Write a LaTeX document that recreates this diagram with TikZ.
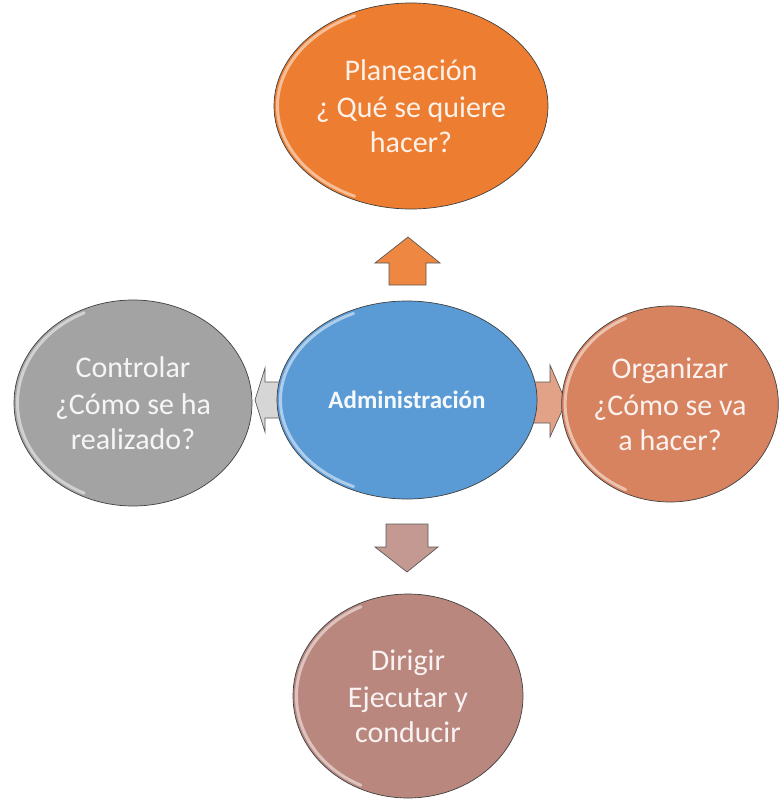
\documentclass[tikz,border=0pt]{standalone}
\usepackage{fontspec}
\setmainfont{Carlito}
\usetikzlibrary{shapes.geometric, calc}

\definecolor{planfill}{HTML}{ED7D31}
\definecolor{adminfill}{HTML}{5B9BD5}
\definecolor{ctrlfill}{HTML}{A3A3A3}
\definecolor{orgfill}{HTML}{D7835F}
\definecolor{dirfill}{HTML}{B9877E}

\tikzset{
  phase/.style={ellipse, draw=black!75, line width=0.7pt, inner sep=0pt, align=center,
    text=white, text opacity=.9, font=\fontsize{30}{35}\selectfont,
    path picture={
      \draw[white, opacity=.5, line width=3pt, line cap=round]
        let \p1=($(path picture bounding box.north east)-(path picture bounding box.center)$) in
        (path picture bounding box.center) ++(115:{\x1-3.5pt} and {\y1-3.5pt})
        arc[start angle=115, end angle=245, x radius=\x1-3.5pt, y radius=\y1-3.5pt];
    }},
  blockarrow/.style={draw=black!65, line width=0.7pt, line join=miter}
}

\begin{document}
\begin{tikzpicture}[x=1pt, y=-1pt]
\useasboundingbox (0,0) rectangle (779,799);

% block arrows, under the ellipses
\draw[blockarrow, fill=planfill!92!white] (389,285) -- (389,263) -- (375,263) -- (408,237) -- (440,263) -- (426,263) -- (426,285) -- cycle;
\draw[blockarrow, fill=dirfill!85!white] (386,524) -- (428,524) -- (428,547) -- (438,547) -- (407,572) -- (375,547) -- (386,547) -- cycle;
\draw[blockarrow, fill=ctrlfill!45!white] (290,382) -- (265,382) -- (265,368) -- (255,400) -- (265,432) -- (265,418) -- (290,418) -- cycle;
\draw[blockarrow, fill=orgfill!75!white] (530,382) -- (550,382) -- (550,365) -- (566,402) -- (550,437) -- (550,423) -- (530,423) -- cycle;

% phases
\node[phase, fill=adminfill, minimum width=260pt, minimum height=198pt, font=\fontsize{25}{30}\selectfont\bfseries, text opacity=.95] (admin) at (407,400) {Administración};
\node[phase, fill=planfill, minimum width=274pt, minimum height=206pt] (plan) at (411,106) {Planeación\\[2pt] ¿ Qué se quiere\\ hacer?};
\node[phase, fill=ctrlfill, minimum width=238pt, minimum height=206pt] (ctrl) at (133,403) {Controlar\\[2pt] ¿Cómo se ha\\ realizado?};
\node[phase, fill=orgfill, minimum width=216pt, minimum height=196pt] (org) at (670,404) {Organizar\\[2pt] ¿Cómo se va\\ a hacer?};
\node[phase, fill=dirfill, minimum width=230pt, minimum height=204pt] (dir) at (408,696) {Dirigir\\[2pt] Ejecutar y\\ conducir};
\end{tikzpicture}
\end{document}
